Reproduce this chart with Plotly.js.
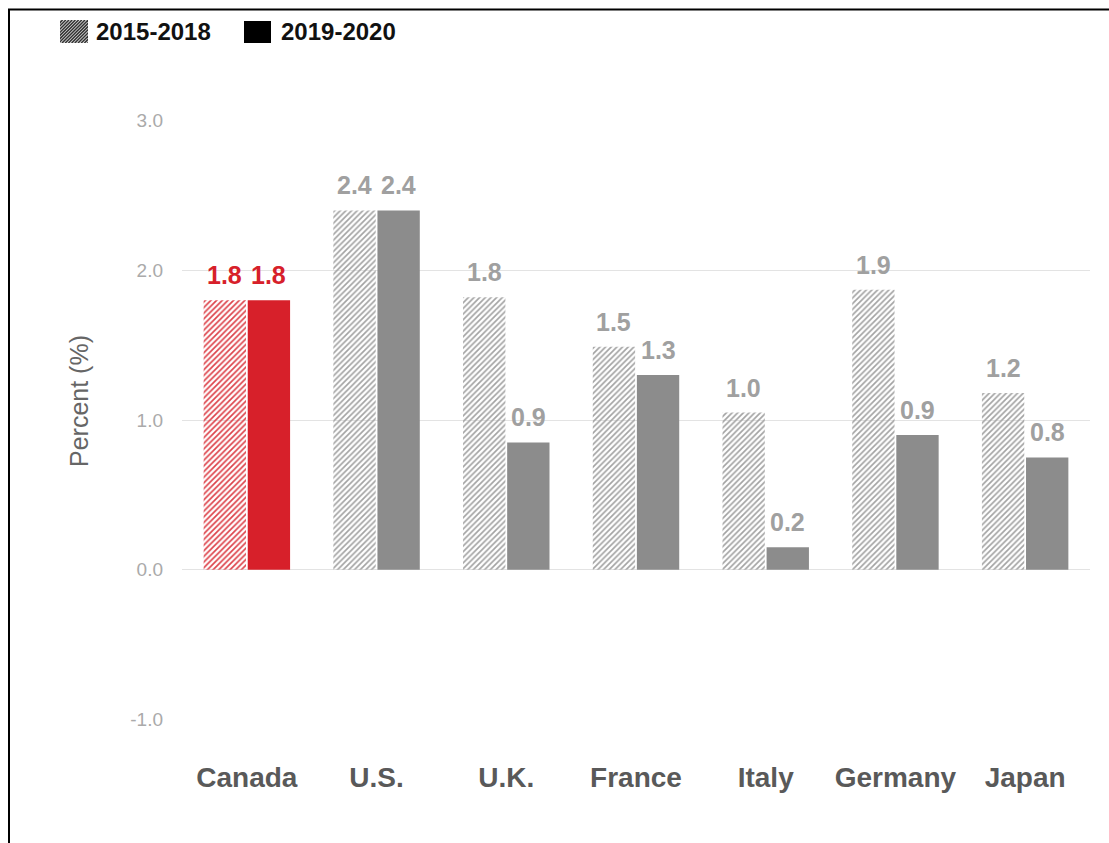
<!DOCTYPE html>
<html>
<head>
<meta charset="utf-8">
<script src="https://cdn.plot.ly/plotly-3.0.1.min.js"></script>
<style>html,body{margin:0;padding:0;background:#fff;}#chart{width:1109px;height:843px;}</style>
</head>
<body>
<div id="chart"></div>
<script>
const categories = ['Canada', 'U.S.', 'U.K.', 'France', 'Italy', 'Germany', 'Japan'];
const values1518 = [1.80, 2.40, 1.82, 1.49, 1.05, 1.87, 1.18];
const values1920 = [1.80, 2.40, 0.85, 1.30, 0.15, 0.90, 0.75];
const labels1518 = ['1.8', '2.4', '1.8', '1.5', '1.0', '1.9', '1.2'];
const labels1920 = ['1.8', '2.4', '0.9', '1.3', '0.2', '0.9', '0.8'];
const seriesNames = ['2015-2018', '2019-2020'];
const yTickVals = [-1, 0, 1, 2, 3];
const yTickText = ['-1.0', '0.0', '1.0', '2.0', '3.0'];
const yTitle = 'Percent (%)';

const W = 1109, H = 843;
const M = {l: 182, r: 19, t: 120, b: 123};
const PW = W - M.l - M.r, PH = H - M.t - M.b;
const px = x => (x - M.l) / PW;
const py = y => 1 - (y - M.t) / PH;

const FONT = 'Liberation Sans, Arial, sans-serif';
const RED = '#d7202a', GRAY = '#8c8c8c', LABELGRAY = '#a0a0a0';
const isHome = c => c === 'Canada';

const trace1 = {
  type: 'bar', name: seriesNames[0], x: categories, y: values1518, showlegend: false,
  marker: {
    color: categories.map(c => isHome(c) ? '#dd434b' : '#a3a3a3'),
    line: {width: 0},
    pattern: {
      shape: '/', fillmode: 'replace', size: 4, solidity: 0.42,
      bgcolor: categories.map(c => isHome(c) ? '#fae2e3' : '#f1f1f1')
    }
  },
  hoverinfo: 'x+y'
};
const trace2 = {
  type: 'bar', name: seriesNames[1], x: categories, y: values1920, showlegend: false,
  marker: {color: categories.map(c => isHome(c) ? RED : GRAY), line: {width: 0}},
  hoverinfo: 'x+y'
};

const slot = PW / categories.length;
const barGap = 0.32;
const half = slot * (1 - barGap) / 4;

const annotations = [];
categories.forEach((c, i) => {
  [[values1518, labels1518, -half], [values1920, labels1920, half]].forEach(([vals, labs, dx]) => {
    annotations.push({
      x: c, y: vals[i], xref: 'x', yref: 'y', text: labs[i], showarrow: false,
      xshift: dx, yshift: 9, yanchor: 'bottom',
      font: {family: FONT, size: 25, weight: 700, color: isHome(c) ? RED : LABELGRAY}
    });
  });
});

// legend texts
annotations.push({xref: 'paper', yref: 'paper', x: px(94), y: py(32), xanchor: 'left', yanchor: 'middle',
  text: seriesNames[0], showarrow: false,
  font: {family: FONT, size: 24, weight: 700, color: '#111'}});
annotations.push({xref: 'paper', yref: 'paper', x: px(279), y: py(32), xanchor: 'left', yanchor: 'middle',
  text: seriesNames[1], showarrow: false,
  font: {family: FONT, size: 24, weight: 700, color: '#111'}});
// y axis title
annotations.push({xref: 'paper', yref: 'paper', x: px(79), y: py(401), xanchor: 'center', yanchor: 'middle',
  text: yTitle, textangle: -90, showarrow: false,
  font: {family: FONT, size: 25, color: '#666'}});

// hatched legend swatch as svg image
let lines = '';
for (let k = -30; k < 60; k += 3.2) {
  lines += `<line x1="${k}" y1="23" x2="${k + 23}" y2="0" stroke="#333" stroke-width="1.5"/>`;
}
const svg = `<svg xmlns="http://www.w3.org/2000/svg" width="28" height="23" viewBox="0 0 28 23"><rect width="28" height="23" fill="#ddd"/>${lines}</svg>`;
const hatchSrc = 'data:image/svg+xml;base64,' + btoa(svg);

const layout = {
  width: W, height: H,
  margin: M,
  paper_bgcolor: '#ffffff', plot_bgcolor: '#ffffff',
  barmode: 'group', bargap: barGap, bargroupgap: 0.04,
  font: {family: FONT},
  xaxis: {
    type: 'category', showgrid: false, zeroline: false, showline: false, ticks: '',
    ticklabelstandoff: 38,
    tickfont: {family: FONT, size: 28, weight: 700, color: '#595959'}
  },
  yaxis: {
    range: [-1.004, 3.004], tickvals: yTickVals, ticktext: yTickText,
    showgrid: true, gridcolor: '#e3e3e3', gridwidth: 1, zeroline: false, showline: false, ticks: '',
    ticklabelstandoff: 18,
    tickfont: {family: FONT, size: 19, color: '#aaaaaa'}
  },
  showlegend: false,
  annotations: annotations,
  images: [{
    source: hatchSrc, xref: 'paper', yref: 'paper', x: px(60), y: py(20),
    sizex: 28 / PW, sizey: 23 / PH, xanchor: 'left', yanchor: 'top', sizing: 'stretch', layer: 'above'
  }],
  shapes: [
    {type: 'rect', xref: 'paper', yref: 'paper', x0: px(244), x1: px(271), y0: py(43), y1: py(21),
      fillcolor: '#000', line: {width: 0}},
    {type: 'line', xref: 'paper', yref: 'paper', x0: px(9), x1: px(9), y0: py(9), y1: py(H + 5),
      line: {color: '#000', width: 2}},
    {type: 'line', xref: 'paper', yref: 'paper', x0: px(8), x1: px(W + 5), y0: py(9.5), y1: py(9.5),
      line: {color: '#000', width: 2}}
  ]
};

Plotly.newPlot('chart', [trace1, trace2], layout, {displayModeBar: false, staticPlot: true});
</script>
</body>
</html>
